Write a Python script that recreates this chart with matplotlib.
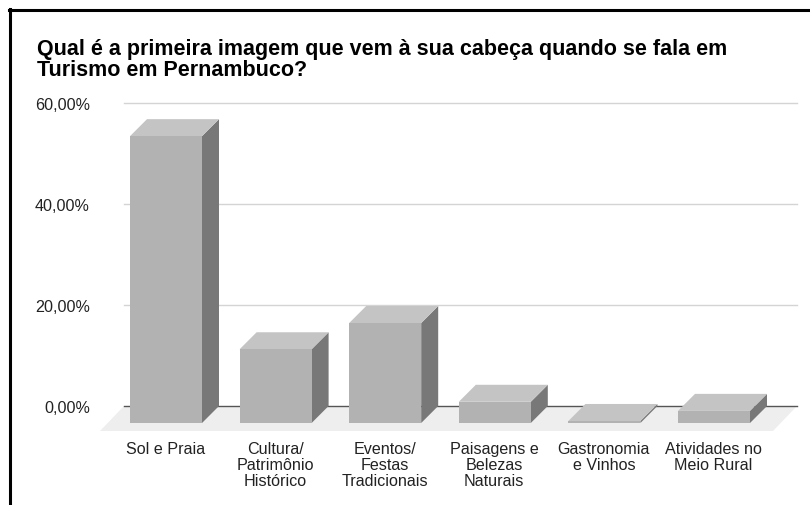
import numpy as np
import matplotlib
matplotlib.use('Agg')
import matplotlib.pyplot as plt
from matplotlib.patches import Polygon

categorias = ['Sol e Praia', 'Cultura/\nPatrimônio\nHistórico', 'Eventos/\nFestas\nTradicionais',
              'Paisagens e\nBelezas\nNaturais', 'Gastronomia\ne Vinhos', 'Atividades no\nMeio Rural']
valores = [56.8, 14.6, 19.8, 4.2, 0.4, 2.4]
ticks = [0, 20, 40, 60]
tick_labels = ['0,00%', '20,00%', '40,00%', '60,00%']
titulo = 'Qual é a primeira imagem que vem à sua cabeça quando se fala em\nTurismo em Pernambuco?'

plt.rcParams['font.family'] = ['Liberation Sans', 'DejaVu Sans']

W, H = 810, 506
fig = plt.figure(figsize=(W/100, H/100), dpi=100)

# eixo: plano da frente das barras, zero em y=424 px, 5.05 px por 1%
px_cat = 109.6
px_pct = 5.05
x0 = 166.0
y0 = 424.0
esq, dir_ = 60, 800
ax = fig.add_axes([esq/W, 1-y0/H, (dir_-esq)/W, 330/H])
ax.set_xlim((esq-x0)/px_cat, (dir_-x0)/px_cat)
ax.set_ylim(0, 330/px_pct)
ax.patch.set_alpha(0)
for s in ax.spines.values():
    s.set_visible(False)

# profundidade do efeito 3D
dx = 17/px_cat
dy = 17/px_pct
larg = 72/px_cat
x = np.arange(len(valores))

# chao
fx = [(100-x0)/px_cat, (773-x0)/px_cat, (797-x0)/px_cat, (124-x0)/px_cat]
fy = [-8/px_pct, -8/px_pct, dy, dy]
ax.add_patch(Polygon(list(zip(fx, fy)), closed=True, fc='#eeeeee', ec='none', clip_on=False, zorder=1))

# linhas de grade no plano de tras
for t in ticks:
    ax.plot([fx[3], fx[2]], [t+dy, t+dy], color='#555555' if t == 0 else '#d4d4d4', lw=1.0, zorder=2)

for xi, v in zip(x, valores):
    e = xi-larg/2
    d = xi+larg/2
    ax.add_patch(Polygon([(d, 0), (d+dx, dy), (d+dx, v+dy), (d, v)], fc='#787878', ec='none', zorder=3))
    ax.add_patch(Polygon([(e, v), (d, v), (d+dx, v+dy), (e+dx, v+dy)], fc='#c4c4c4', ec='none', zorder=3))
ax.bar(x, valores, width=larg, color='#b2b2b2', zorder=4)

ax.set_yticks(np.array(ticks)+dy, tick_labels, fontsize=11.6, color='#222222')
ax.set_xticks(x-0.005, categorias, fontsize=11.6, color='#222222', linespacing=1.1)
ax.tick_params(axis='both', length=0)
ax.tick_params(axis='x', pad=13)
ax.tick_params(axis='y', pad=-21.5)

fig.text(37/W, 1-39/H, titulo, fontsize=15.5, fontweight='bold', color='black', va='top', linespacing=0.98)

# moldura preta
fig.add_artist(plt.Line2D([9.7/W, 9.7/W], [0, 1-9.5/H], color='black', lw=2.2))
fig.add_artist(plt.Line2D([8.7/W, 1], [1-11/H, 1-11/H], color='black', lw=2.2))

fig.savefig('out.png', dpi=100)
